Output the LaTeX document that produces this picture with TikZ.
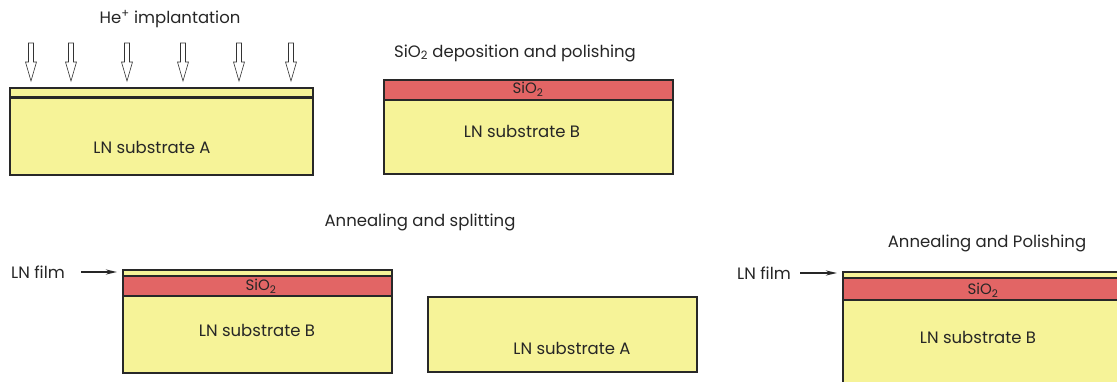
\documentclass[tikz,border=0pt]{standalone}
\usepackage{fontspec}
\setmainfont{Poppins}
\usetikzlibrary{arrows.meta}
\definecolor{lnyellow}{RGB}{246,243,152}
\definecolor{oxred}{RGB}{226,101,101}
\definecolor{edge}{RGB}{40,40,40}
\tikzset{
  lnlayer/.style={fill=lnyellow,draw=edge,line width=1.3pt},
  oxlayer/.style={fill=oxred,draw=edge,line width=1.3pt},
  lbl/.style={font=\fontsize{16.5}{18}\selectfont,text=black!85,inner sep=0pt},
  title/.style={font=\fontsize{16.5}{18}\selectfont,text=black!85,inner sep=0pt},
  oxlbl/.style={font=\fontsize{15}{16}\selectfont,text=black!85,inner sep=0pt},
  ionarrow/.style={fill=white,draw=black!80,line width=0.6pt,line join=miter},
  filmarrow/.style={-{Stealth[length=11pt,width=5pt]},line width=2.3pt,black!85}
}
\newcommand{\ionarr}[1]{%
  \draw[ionarrow] (#1-2.5,43) -- (#1+2.5,43) -- (#1+2.5,62) -- (#1+5.5,62) -- (#1,81) -- (#1-5.5,62) -- (#1-2.5,62) -- cycle;}
\begin{document}
\begin{tikzpicture}[x=1pt,y=-1pt]
\useasboundingbox (0,0) rectangle (1117,382);
% ---- Panel 1: He implantation
\node[title] (t1) at (170,19) {He\textsuperscript{+} implantation};
\foreach \xx in {31,71,127,183,239,291} {\ionarr{\xx}}
\draw[lnlayer] (10,88) rectangle (313,175);
\draw[edge,line width=2.6pt] (10,97.5) -- (313,97.5);
\node[lbl] (a1) at (152,147) {LN substrate A};
% ---- Panel 2
\node[title] (t2) at (515,53) {SiO\textsubscript{2} deposition and polishing};
\draw[lnlayer] (384,100) rectangle (673,174);
\draw[oxlayer] (384,80) rectangle (673,100);
\node[oxlbl] (o2) at (528,89) {SiO\textsubscript{2}};
\node[lbl] (b2) at (522,131) {LN substrate B};
% ---- Panel 3
\node[title] (t3) at (420,222) {Annealing and splitting};
\node[lbl] (f3) at (38,272) {LN film};
\coordinate (f3tip) at (117,272);
\draw[lnlayer] (123,296) rectangle (392,373);
\draw[oxlayer] (123,276) rectangle (392,296);
\draw[lnlayer,line width=1.1pt] (123,270) rectangle (392,275.5);
\draw[edge,line width=2pt] (123,276) -- (392,276);
\draw[filmarrow] (81,272) -- (f3tip);
\node[oxlbl] (o3) at (261,286) {SiO\textsubscript{2}};
\node[lbl] (b3) at (257,330) {LN substrate B};
% ---- Panel 4
\draw[lnlayer] (428,297) rectangle (697,372);
\node[lbl] (a4) at (572,348) {LN substrate A};
% ---- Panel 5
\node[title] (t5) at (987,243) {Annealing and Polishing};
\node[lbl] (f5) at (764,273) {LN film};
\coordinate (f5tip) at (837,273);
\draw[lnlayer] (843,300) rectangle (1125,390);
\draw[oxlayer] (843,278) rectangle (1125,300);
\draw[lnlayer,line width=1.1pt] (843,272) rectangle (1125,277.5);
\draw[edge,line width=2pt] (843,278) -- (1125,278);
\draw[filmarrow] (800,273) -- (f5tip);
\node[oxlbl] (o5) at (983,290) {SiO\textsubscript{2}};
\node[lbl] (b5) at (978,337) {LN substrate B};
\end{tikzpicture}
\end{document}
